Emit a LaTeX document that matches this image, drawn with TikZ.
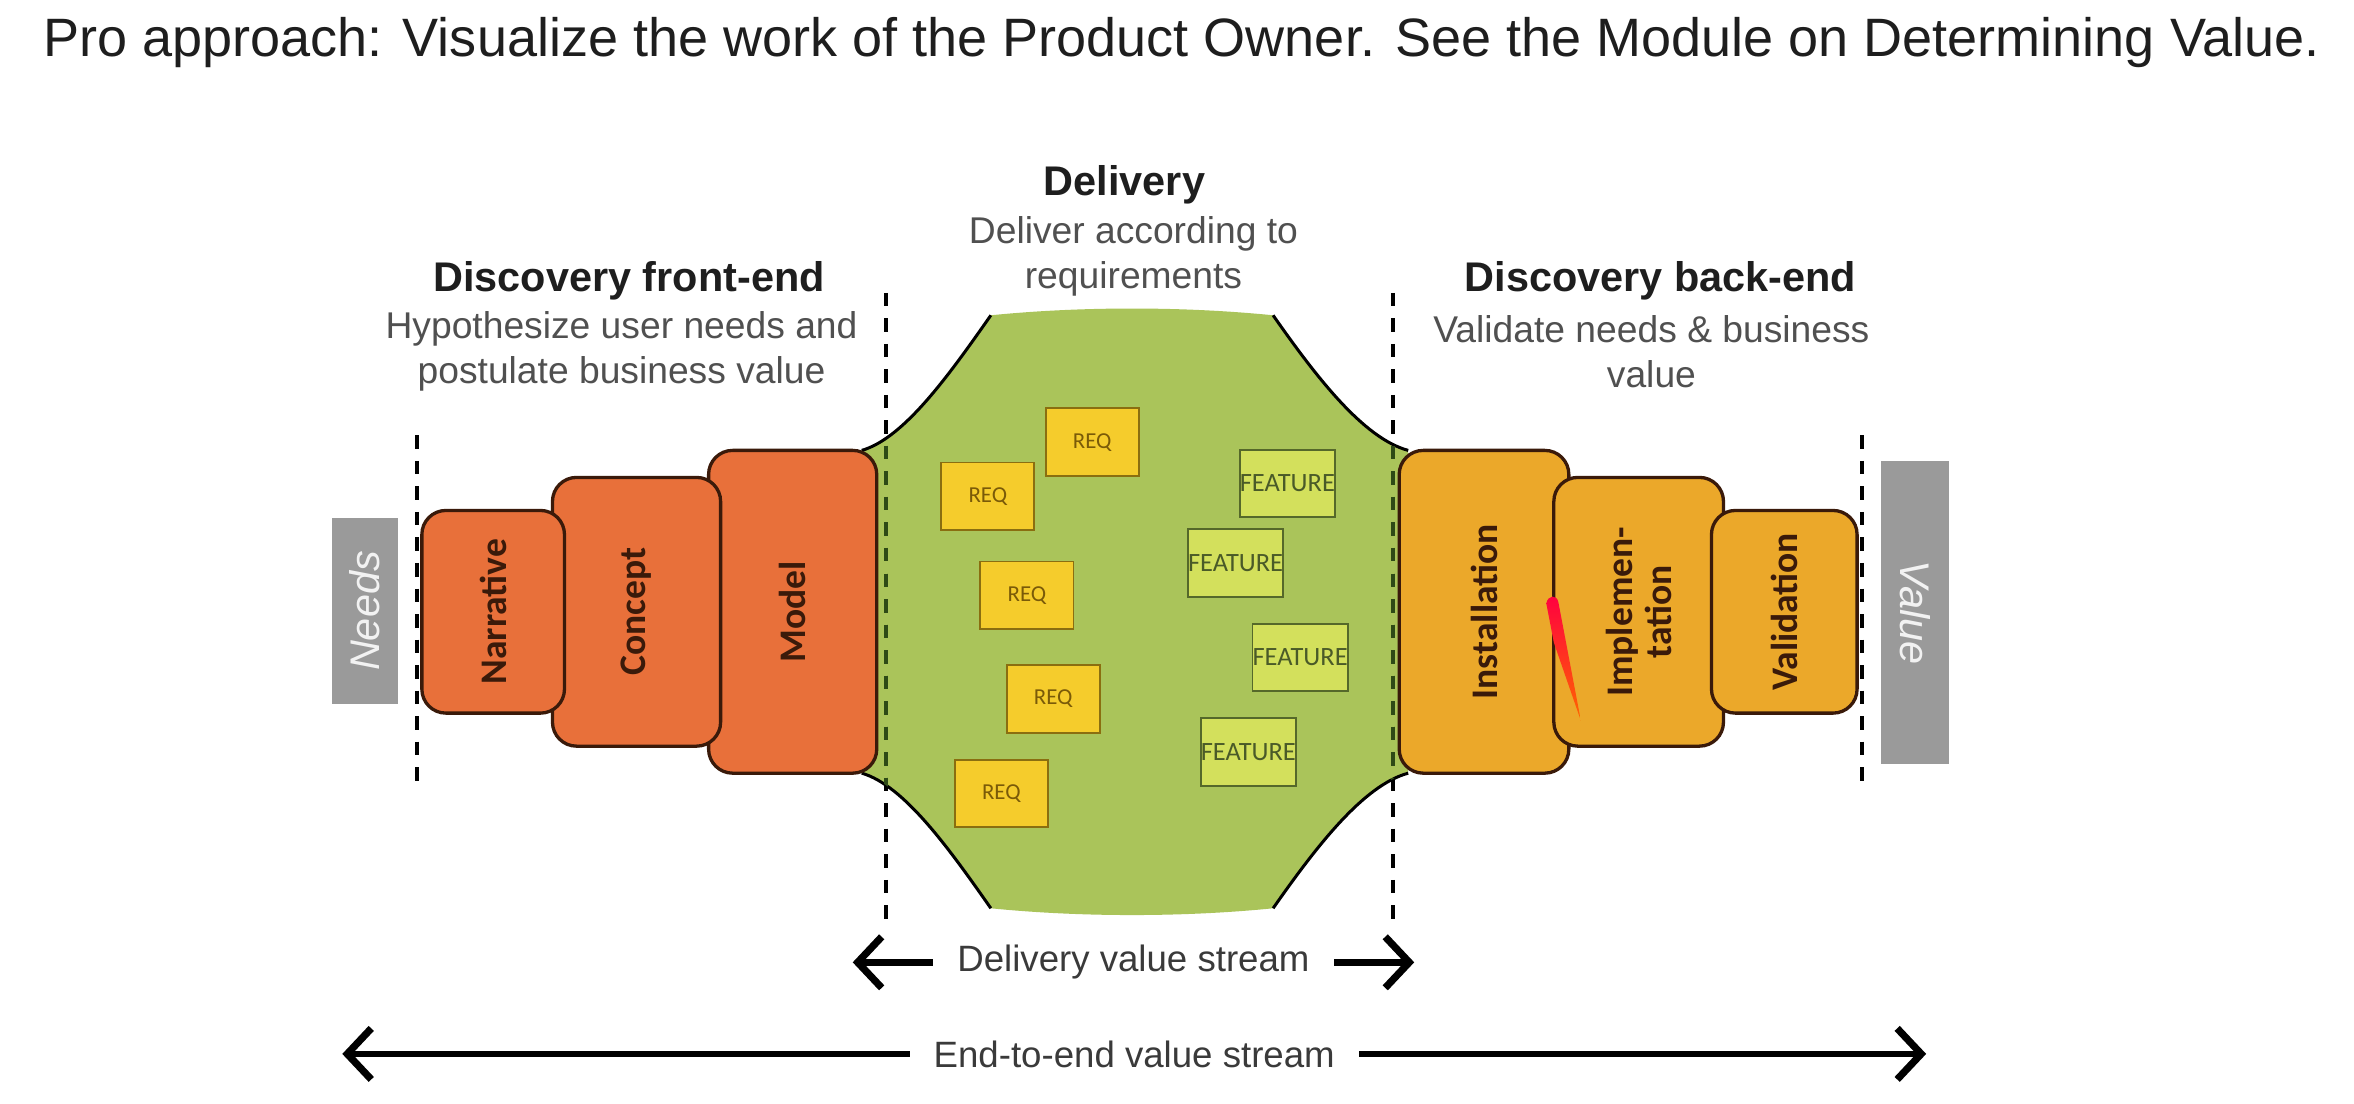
\documentclass[tikz,border=0pt]{standalone}
\usepackage{fontspec}
\setmainfont{Liberation Sans}
\newfontfamily\calfont{Carlito}
\usetikzlibrary{arrows.meta}
\definecolor{orangeL}{HTML}{E8703A}
\definecolor{orangeR}{HTML}{EBA82A}
\definecolor{greenD}{HTML}{AAC45A}
\definecolor{greenDash}{HTML}{2E4A16}
\definecolor{reqY}{HTML}{F5CC2C}
\definecolor{reqLine}{HTML}{8A6E10}
\definecolor{reqText}{HTML}{7A5A08}
\definecolor{featG}{HTML}{D3E05C}
\definecolor{featLine}{HTML}{55682A}
\definecolor{featText}{HTML}{4A5A28}
\definecolor{boxline}{HTML}{3A1A0A}
\definecolor{grayB}{HTML}{9A9A9A}
\definecolor{headC}{HTML}{1E1E1E}
\definecolor{subC}{HTML}{505050}
\definecolor{streamC}{HTML}{3A3A3A}
\begin{document}
\begin{tikzpicture}[x=0.5pt,y=-0.5pt,
  stagebox/.style={draw=boxline, line width=1.1pt, rounded corners=8pt, inner sep=0pt,
     rotate=90, align=center, text=boxline, font=\calfont\bfseries\fontsize{12.5}{13}\selectfont},
  leftbox/.style={stagebox, fill=orangeL},
  rightbox/.style={stagebox, fill=orangeR},
  graybox/.style={fill=grayB, inner sep=0pt, text=white!95!black, font=\itshape\fontsize{13.8}{15}\selectfont},
  reqbox/.style={fill=reqY, draw=reqLine, line width=0.6pt, minimum width=31pt, minimum height=22.5pt,
     inner sep=0pt, text=reqText, font=\calfont\fontsize{7.6}{8}\selectfont},
  featbox/.style={fill=featG, draw=featLine, line width=0.6pt, minimum width=31pt, minimum height=22.5pt,
     inner sep=0pt, text=featText, font=\calfont\fontsize{8.8}{9}\selectfont},
  head/.style={text=headC, font=\bfseries\fontsize{13.8}{15}\selectfont, inner sep=0pt},
  subtext/.style={text=subC, align=center, font=\fontsize{12.4}{15}\selectfont, inner sep=0pt},
  divider/.style={line width=1.4pt, dash pattern=on 4.5pt off 4pt},
  streamarrow/.style={line width=2.2pt, {Straight Barb[length=8pt,width=17pt,line width=2.4pt]}-{Straight Barb[length=8pt,width=17pt,line width=2.4pt]}},
  streamlabel/.style={fill=white, text=streamC, font=\fontsize{12.2}{14}\selectfont, inner xsep=8pt, inner ysep=2pt}
]
\useasboundingbox (0,0) rectangle (1568,735);
\fill[white] (0,0) rectangle (1568,735);

% title
\node[text=headC, font=\fontsize{18}{21}\selectfont, inner sep=0pt] (title) at (787,28)
  {Pro approach: Visualize the work of the Product Owner. See the Module on Determining Value.};

% headings
\node[head] (dhead) at (749,123) {Delivery};
\node[subtext] (dsub) at (755,171) {Deliver according to\\requirements};
\node[head] (fhead) at (419,187) {Discovery front-end};
\node[subtext] (fsub) at (414,234) {Hypothesize user needs and\\postulate business value};
\node[head] (bhead) at (1106,187) {Discovery back-end};
\node[subtext] (bsub) at (1100,234) {Validate needs \& business\\value};

% green delivery area
\def\greenpath{(574,300) .. controls (602,292) and (632,250) .. (660,210)
  .. controls (720,204) and (788,204) .. (848,210)
  .. controls (876,250) and (908,292) .. (938,300) -- (938,515)
  .. controls (908,523) and (876,565) .. (848,605)
  .. controls (788,611) and (720,611) .. (660,605)
  .. controls (632,565) and (602,523) .. (574,515) -- cycle}
\fill[greenD] \greenpath;
\draw[line width=1pt] (574,300) .. controls (602,292) and (632,250) .. (660,210);
\draw[line width=1pt] (848,210) .. controls (876,250) and (908,292) .. (938,300);
\draw[line width=1pt] (938,515) .. controls (908,523) and (876,565) .. (848,605);
\draw[line width=1pt] (660,605) .. controls (632,565) and (602,523) .. (574,515);

% dividers
\coordinate (d1a) at (278,290); \coordinate (d1b) at (278,525);
\coordinate (d2a) at (590,195); \coordinate (d2b) at (590,615);
\coordinate (d3a) at (928,195); \coordinate (d3b) at (928,615);
\coordinate (d4a) at (1240,290); \coordinate (d4b) at (1240,525);
\draw[divider] (d1a) -- (d1b);
\draw[divider] (d2a) -- (d2b);
\draw[divider] (d3a) -- (d3b);
\draw[divider] (d4a) -- (d4b);
\begin{scope}
  \clip \greenpath;
  \draw[divider, greenDash] (d2a) -- (d2b);
  \draw[divider, greenDash] (d3a) -- (d3b);
\end{scope}

% needs / value
\node[graybox, rotate=90, minimum width=62pt, minimum height=22pt] (needs) at (243,407) {Needs};
\node[graybox, rotate=-90, minimum width=101pt, minimum height=22.5pt] (value) at (1275.5,408) {Value};

% left stages (bigger first)
\node[leftbox, minimum width=107.5pt, minimum height=56pt] (model) at (528,407.5) {Model};
\node[leftbox, minimum width=89.5pt, minimum height=56pt] (concept) at (424,407.5) {Concept};
\node[leftbox, minimum width=67.5pt, minimum height=47.5pt] (narrative) at (328.5,407.5) {Narrative};

% right stages
\node[rightbox, minimum width=107.5pt, minimum height=56.5pt] (install) at (988.5,407.5) {Installation};
\node[rightbox, minimum width=89.5pt, minimum height=56.5pt] (implement) at (1091.5,407.5) {Implemen-\\tation};
\node[rightbox, minimum width=67.5pt, minimum height=48.5pt] (validation) at (1188.5,407.5) {Validation};

% red pen mark
\shade[top color=red!75!magenta, bottom color=orange!80!red]
  (1030,402) .. controls (1031,396) and (1037,396) .. (1038,401) -- (1053,480) -- (1035,428) -- cycle;

% REQ cards
\node[reqbox] (req1) at (727.5,294.5) {REQ};
\node[reqbox] (req2) at (658,330.5) {REQ};
\node[reqbox] (req3) at (684,396.5) {REQ};
\node[reqbox] (req4) at (701.5,465.5) {REQ};
\node[reqbox] (req5) at (667,528.5) {REQ};

% FEATURE cards
\node[featbox] (feat1) at (857.5,322) {FEATURE};
\node[featbox] (feat2) at (823,375) {FEATURE};
\node[featbox] (feat3) at (866,438) {FEATURE};
\node[featbox] (feat4) at (831.5,501) {FEATURE};

% value streams
\coordinate (dvsL) at (568,641); \coordinate (dvsR) at (942,641);
\draw[streamarrow] (dvsL) -- (dvsR) node[streamlabel, midway] (dvs) {Delivery value stream};
\coordinate (evsL) at (228,702); \coordinate (evsR) at (1283,702);
\draw[streamarrow] (evsL) -- (evsR) node[streamlabel, pos=0.5] (evs) {End-to-end value stream};
\end{tikzpicture}
\end{document}
